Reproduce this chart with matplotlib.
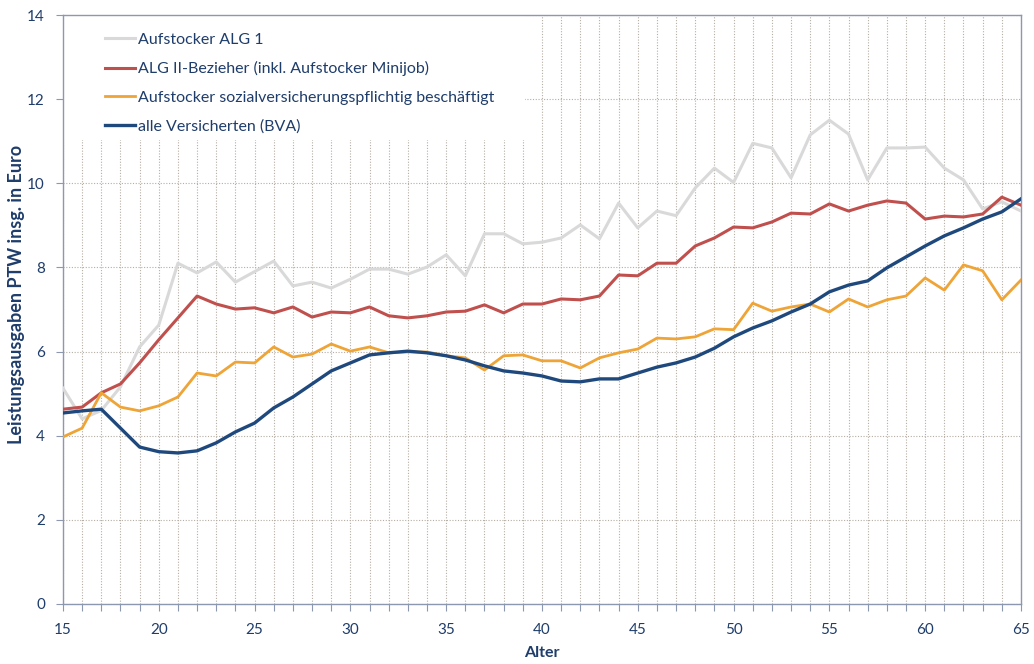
import numpy as np
import matplotlib as mpl
import matplotlib.pyplot as plt
from matplotlib.ticker import MultipleLocator
from matplotlib.patches import Rectangle

# ----------------------------------------------------------------------------
# Data
# ----------------------------------------------------------------------------

alter = list(range(15, 66))

alg1 = [5.13, 4.40, 4.60, 5.16, 6.11, 6.63, 8.10, 7.87, 8.13, 7.65,
        7.90, 8.15, 7.56, 7.65, 7.51, 7.72, 7.96, 7.96, 7.84, 8.01,
        8.30, 7.80, 8.80, 8.80, 8.56, 8.60, 8.70, 9.01, 8.68, 9.53,
        8.94, 9.34, 9.23, 9.89, 10.36, 10.02, 10.95, 10.84, 10.13, 11.15,
        11.50, 11.17, 10.08, 10.84, 10.84, 10.86, 10.36, 10.08, 9.39, 9.56,
        9.34]

alg2 = [4.63, 4.68, 5.02, 5.23, 5.73, 6.28, 6.80, 7.32, 7.13, 7.01,
        7.04, 6.92, 7.06, 6.82, 6.94, 6.92, 7.06, 6.85, 6.80, 6.85,
        6.94, 6.96, 7.11, 6.92, 7.13, 7.13, 7.25, 7.23, 7.32, 7.82,
        7.80, 8.10, 8.10, 8.51, 8.70, 8.96, 8.94, 9.08, 9.29, 9.27,
        9.51, 9.34, 9.48, 9.58, 9.53, 9.15, 9.22, 9.20, 9.27, 9.67,
        9.48]

svb = [3.97, 4.18, 5.02, 4.68, 4.59, 4.71, 4.92, 5.49, 5.42, 5.75,
       5.73, 6.11, 5.87, 5.94, 6.18, 6.01, 6.11, 5.97, 5.99, 5.99,
       5.90, 5.85, 5.56, 5.90, 5.92, 5.78, 5.78, 5.61, 5.85, 5.97,
       6.06, 6.32, 6.30, 6.35, 6.54, 6.52, 7.15, 6.96, 7.06, 7.13,
       6.94, 7.25, 7.06, 7.23, 7.32, 7.75, 7.46, 8.06, 7.92, 7.23,
       7.70]

bva = [4.54, 4.59, 4.63, 4.18, 3.73, 3.62, 3.59, 3.64, 3.83, 4.09,
       4.30, 4.66, 4.92, 5.23, 5.54, 5.73, 5.92, 5.97, 6.01, 5.97,
       5.90, 5.80, 5.66, 5.54, 5.49, 5.42, 5.30, 5.28, 5.35, 5.35,
       5.49, 5.63, 5.73, 5.87, 6.08, 6.35, 6.56, 6.73, 6.94, 7.13,
       7.42, 7.58, 7.68, 7.99, 8.25, 8.51, 8.75, 8.94, 9.15, 9.32,
       9.63]

labels = [
    "Aufstocker ALG 1",
    "ALG II-Bezieher (inkl. Aufstocker Minijob)",
    "Aufstocker sozialversicherungspflichtig beschäftigt",
    "alle Versicherten (BVA)",
]

# ----------------------------------------------------------------------------
# Style
# ----------------------------------------------------------------------------

NAVY = "#1f3d6b"
AXIS = "#8c97b0"
GRID = "#b5aea4"

mpl.rcParams.update({
    "font.family": ["Lato", "DejaVu Sans"],
    "font.size": 11,
    "text.color": NAVY,
    "xtick.color": AXIS,
    "ytick.color": AXIS,
    "xtick.labelcolor": NAVY,
    "ytick.labelcolor": NAVY,
})

fig = plt.figure(figsize=(10.34, 6.64), dpi=100)
ax = fig.add_axes([0.0609, 0.0904, 0.9265, 0.887])

ax.plot(alter, alg1, color="#d9d9d9", lw=2.2, label=labels[0], zorder=3)
ax.plot(alter, alg2, color="#c0504d", lw=2.2, label=labels[1], zorder=4)
ax.plot(alter, svb, color="#eea436", lw=2.0, label=labels[2], zorder=5)
ax.plot(alter, bva, color="#1f497d", lw=2.4, label=labels[3], zorder=6)

ax.set_xlim(15, 65)
ax.set_ylim(0, 14)
ax.xaxis.set_major_locator(MultipleLocator(5))
ax.xaxis.set_minor_locator(MultipleLocator(1))
ax.yaxis.set_major_locator(MultipleLocator(2))

ax.grid(which="both", axis="x", color=GRID, ls=(0, (1, 1.5)), lw=0.8, zorder=0)
ax.grid(which="major", axis="y", color=GRID, ls=(0, (1, 1.5)), lw=0.8, zorder=0)

for side in ("left", "bottom", "top", "right"):
    ax.spines[side].set_color(AXIS)
    ax.spines[side].set_linewidth(1.0)

ax.tick_params(axis="both", which="both", direction="out", length=5, width=0.8)
ax.tick_params(axis="x", which="major", pad=9, labelsize=11)
ax.tick_params(axis="y", labelsize=11, pad=8)

ax.set_xlabel("Alter", fontweight="bold", color=NAVY, fontsize=11.5)
ax.xaxis.set_label_coords(0.5, -0.071)
ax.set_ylabel("Leistungsausgaben PTW insg. in Euro", fontweight="bold",
              color=NAVY, fontsize=13)
ax.yaxis.set_label_coords(-0.040, 0.525)

# white background block behind the legend (hides the grid there)
ax.add_patch(Rectangle((0, 0.788), 0.482, 0.212, transform=ax.transAxes,
                       facecolor="white", edgecolor="none", zorder=2))

leg = ax.legend(loc="upper left", bbox_to_anchor=(0.0438, 0.970),
                frameon=False, handlelength=1.9, handletextpad=0.15,
                labelspacing=0.9, borderpad=0, borderaxespad=0,
                fontsize=11.5)
leg.set_zorder(10)
for t in leg.get_texts():
    t.set_color(NAVY)

fig.savefig("out.png", dpi=100)
